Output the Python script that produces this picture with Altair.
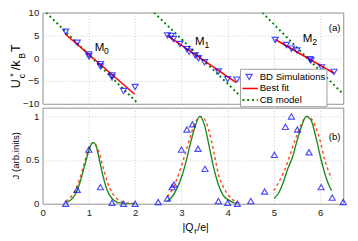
import altair as alt
import pandas as pd

FONT = "Liberation Sans"
BLUE = "#0000ff"
RED = "#ff0000"
GREEN = "#008000"
RED2 = "#ff4a2a"
GREEN2 = "#1a8a1a"
GRID = "#c8c8c8"
LAB = "#222222"

# ---------------- panel (a): U*_c / k_B T ----------------
sim_a_x = [0.50, 0.75, 1.00, 1.00, 1.25, 1.25, 1.50, 1.50, 1.75, 2.00,
           2.70, 2.78, 2.83, 2.97, 3.12, 3.17, 3.30, 3.37, 3.50, 3.80, 4.00, 4.20,
           5.03, 5.27, 5.38, 5.50, 5.78, 5.80, 6.03, 6.30]
sim_a_y = [5.8, 3.4, 0.8, 0.4, -1.3, -1.8, -3.8, -4.2, -7.2, -6.3,
           5.0, 4.9, 4.2, 3.1, 2.0, 1.4, 0.6, 0.0, -0.9, -2.9, -4.6, -4.7,
           4.0, 2.9, 2.1, 1.7, -0.2, -0.5, -2.0, -3.0]

fit_group = ["M0", "M0", "M1", "M1", "M2", "M2"]
fit_x = [0.49, 1.99, 2.69, 4.18, 5.03, 6.30]
fit_y = [5.3, -7.9, 5.0, -5.3, 4.1, -3.3]

cb_group = ["M0", "M0", "M1", "M1", "M2", "M2"]
cb_x = [0.08, 2.07, 2.41, 4.45, 4.75, 6.50]
cb_y = [10.0, -10.0, 10.0, -10.0, 10.0, -7.9]

m_text = ["M", "M", "M"]
m_x = [1.23, 3.40, 5.73]
m_y = [2.4, 3.7, 4.4]
m_sub = ["0", "1", "2"]
m_sub_x = [1.38, 3.55, 5.88]
m_sub_y = [1.5, 2.9, 3.5]

# ---------------- panel (b): J ----------------
sim_b_x = [0.50, 0.75, 1.00, 1.25, 1.50, 1.75, 2.00, 2.50, 2.70, 2.80, 2.84,
           3.00, 3.12, 3.24, 3.36, 3.51, 3.80, 4.00, 4.21, 4.50, 4.80, 5.01,
           5.25, 5.38, 5.51, 5.76, 6.02, 6.26, 6.50]
sim_b_y = [0.00, 0.16, 0.62, 0.19, 0.01, 0.00, 0.00, 0.02, 0.06, 0.19, 0.22,
           0.62, 0.85, 0.91, 0.63, 0.40, 0.03, 0.01, 0.00, 0.03, 0.14, 0.56,
           0.88, 1.00, 0.85, 0.59, 0.19, 0.07, 0.02]

# CB model (green solid)
cbJ0_x = [0.50, 0.60, 0.70, 0.80, 0.90, 1.00, 1.05, 1.10, 1.15, 1.20, 1.30, 1.40, 1.50, 1.60, 1.75, 2.00]
cbJ0_y = [0.01, 0.04, 0.10, 0.23, 0.42, 0.61, 0.68, 0.70, 0.67, 0.57, 0.33, 0.15, 0.06, 0.02, 0.005, 0.0]
cbJ1_x = [2.70, 2.80, 2.90, 3.00, 3.10, 3.20, 3.30, 3.40, 3.50, 3.60, 3.70, 3.80, 3.90, 4.00, 4.10, 4.20]
cbJ1_y = [0.03, 0.08, 0.17, 0.30, 0.48, 0.70, 0.89, 1.00, 0.90, 0.66, 0.41, 0.22, 0.10, 0.05, 0.02, 0.005]
cbJ2_x = [5.00, 5.10, 5.20, 5.30, 5.40, 5.50, 5.60, 5.70, 5.80, 5.90, 6.00, 6.10, 6.20, 6.25]
cbJ2_y = [0.06, 0.12, 0.24, 0.40, 0.53, 0.72, 0.89, 1.00, 0.96, 0.78, 0.55, 0.35, 0.20, 0.15]

# Best fit (red dashed)
fitJ0_x = [0.50, 0.60, 0.70, 0.80, 0.90, 1.00, 1.10, 1.20, 1.30, 1.40, 1.50, 1.60, 1.70, 1.80, 1.95]
fitJ0_y = [0.03, 0.07, 0.15, 0.28, 0.46, 0.63, 0.70, 0.62, 0.43, 0.25, 0.13, 0.06, 0.03, 0.01, 0.005]
fitJ1_x = [2.70, 2.80, 2.90, 3.00, 3.10, 3.20, 3.30, 3.42, 3.50, 3.60, 3.70, 3.80, 3.90, 4.00, 4.10, 4.25]
fitJ1_y = [0.08, 0.16, 0.28, 0.43, 0.60, 0.78, 0.93, 1.00, 0.97, 0.83, 0.60, 0.34, 0.20, 0.11, 0.05, 0.01]
fitJ2_x = [5.00, 5.10, 5.20, 5.30, 5.40, 5.50, 5.60, 5.72, 5.80, 5.90, 6.00, 6.10, 6.20, 6.25]
fitJ2_y = [0.15, 0.24, 0.35, 0.48, 0.64, 0.79, 0.92, 1.00, 0.98, 0.88, 0.72, 0.50, 0.35, 0.29]

# ---------------- tables ----------------
sim_a = pd.DataFrame({"x": sim_a_x, "y": sim_a_y})
fit_a = pd.DataFrame({"x": fit_x, "y": fit_y, "g": fit_group})
cb_a = pd.DataFrame({"x": cb_x, "y": cb_y, "g": cb_group})
mlab = pd.DataFrame({"x": m_x, "y": m_y, "t": m_text})
msub = pd.DataFrame({"x": m_sub_x, "y": m_sub_y, "t": m_sub})

sim_b = pd.DataFrame({"x": sim_b_x, "y": sim_b_y})


def curves(parts):
    rows = []
    for g, (xs, ys) in enumerate(parts):
        for xv, yv in zip(xs, ys):
            rows.append({"x": xv, "y": yv, "g": g})
    return pd.DataFrame(rows)


cb_b = curves([(cbJ0_x, cbJ0_y), (cbJ1_x, cbJ1_y), (cbJ2_x, cbJ2_y)])
fit_b = curves([(fitJ0_x, fitJ0_y), (fitJ1_x, fitJ1_y), (fitJ2_x, fitJ2_y)])

one = pd.DataFrame({"a": [0]})

W, HA, HB = 313, 95, 100
MS = 40  # marker size


def xenc(show):
    return alt.X("x:Q", scale=alt.Scale(domain=[0, 6.5], nice=False, zero=False),
                 axis=alt.Axis(values=[0, 1, 2, 3, 4, 5, 6], labels=show, ticks=False,
                               domain=False, title=None, grid=True, gridDash=[1, 2],
                               gridColor=GRID, labelFont=FONT, labelFontSize=10,
                               labelColor=LAB, labelPadding=4, labelFlush=False,
                               labelOverlap=False))


def yenc(domain, values, fmt):
    return alt.Y("y:Q", scale=alt.Scale(domain=domain, nice=False, zero=False),
                 axis=alt.Axis(values=values, format=fmt, title=None, ticks=False,
                               domain=False, grid=True, gridDash=[1, 2], gridColor=GRID,
                               labelFont=FONT, labelFontSize=10, labelColor=LAB,
                               labelPadding=4, labelOverlap=False))


ya = lambda: yenc([-10, 10], [-10, -5, 0, 5, 10], "d")
yb = lambda: yenc([0, 1.1], [0, 0.5, 1], "~g")


def txt(s, x, y, size=10, align="center", angle=0, baseline="middle"):
    kw = dict(text=s, font=FONT, fontSize=size, color="#000", align=align, baseline=baseline)
    if angle:
        kw["angle"] = angle
    return alt.Chart(one).mark_text(**kw).encode(x=alt.value(x), y=alt.value(y))


# ---------------- top panel ----------------
top_layers = [
    alt.Chart(cb_a).mark_line(color=GREEN, strokeDash=[2, 3], strokeWidth=2, clip=True)
    .encode(x=xenc(False), y=ya(), detail="g:N"),
    alt.Chart(fit_a).mark_line(color=RED, strokeWidth=1.6)
    .encode(x=xenc(False), y=ya(), detail="g:N"),
    alt.Chart(sim_a).mark_point(shape="triangle-down", filled=False, color=BLUE, size=MS, strokeWidth=1.2)
    .encode(x=xenc(False), y=ya()),
    alt.Chart(mlab).mark_text(font=FONT, fontSize=12, color="#000")
    .encode(x=xenc(False), y=ya(), text="t:N"),
    alt.Chart(msub).mark_text(font=FONT, fontSize=9, color="#000")
    .encode(x=xenc(False), y=ya(), text="t:N"),
    txt("(a)", 304, 16, 10),
    # legend
    alt.Chart(one).mark_rect(fill="white", stroke="#9a9a9a", strokeWidth=1)
    .encode(x=alt.value(206), x2=alt.value(296), y=alt.value(59), y2=alt.value(98)),
    alt.Chart(one).mark_point(shape="triangle-down", filled=False, color=BLUE, size=MS, strokeWidth=1.2)
    .encode(x=alt.value(215), y=alt.value(67)),
    alt.Chart(one).mark_rule(color=RED, strokeWidth=1.6)
    .encode(x=alt.value(208), x2=alt.value(224), y=alt.value(79)),
    alt.Chart(one).mark_rule(color=GREEN, strokeDash=[2, 3], strokeWidth=2)
    .encode(x=alt.value(208), x2=alt.value(224), y=alt.value(91)),
    txt("BD Simulations", 226, 67, 10, "left"),
    txt("Best fit", 226, 79, 10, "left"),
    txt("CB model", 226, 91, 10, "left"),
    # y title  U*_c / k_B T
    txt("U", -27, 74, 13, angle=270),
    txt("*", -31, 65, 9, angle=270),
    txt("c", -21, 66, 9, angle=270),
    txt("/k", -27, 55, 13, angle=270),
    txt("B", -21, 45, 9, angle=270),
    txt("T", -27, 37, 13, angle=270),
]
top = alt.layer(*top_layers).properties(width=W, height=HA)

# ---------------- bottom panel ----------------
bot_layers = [
    alt.Chart(fit_b).mark_line(color=RED2, strokeDash=[3, 3], strokeWidth=1.5, interpolate="monotone", clip=True)
    .encode(x=xenc(True), y=yb(), detail="g:N"),
    alt.Chart(cb_b).mark_line(color=GREEN2, strokeWidth=1.4, interpolate="monotone", clip=True)
    .encode(x=xenc(True), y=yb(), detail="g:N"),
    alt.Chart(sim_b).mark_point(shape="triangle-up", filled=False, color=BLUE, size=MS, strokeWidth=1.2)
    .encode(x=xenc(True), y=yb()),
    txt("(b)", 304, 31, 10),
    txt("J (arb.inits)", -28, 50, 10, angle=270),
    txt("|Q", 157, 125, 11, "right"),
    txt("f", 158, 129, 8, "left"),
    txt("/e|", 161, 125, 11, "left"),
]
bottom = alt.layer(*bot_layers).properties(width=W, height=HB)

chart = (
    alt.vconcat(top, bottom, spacing=4, bounds="flush")
    .properties(padding={"left": 0, "top": -6, "right": 0, "bottom": 0})
    .configure_view(stroke="#8a8a8a", strokeWidth=1)
)

chart.save("out.html", embed_options={"renderer": "svg", "actions": False})
